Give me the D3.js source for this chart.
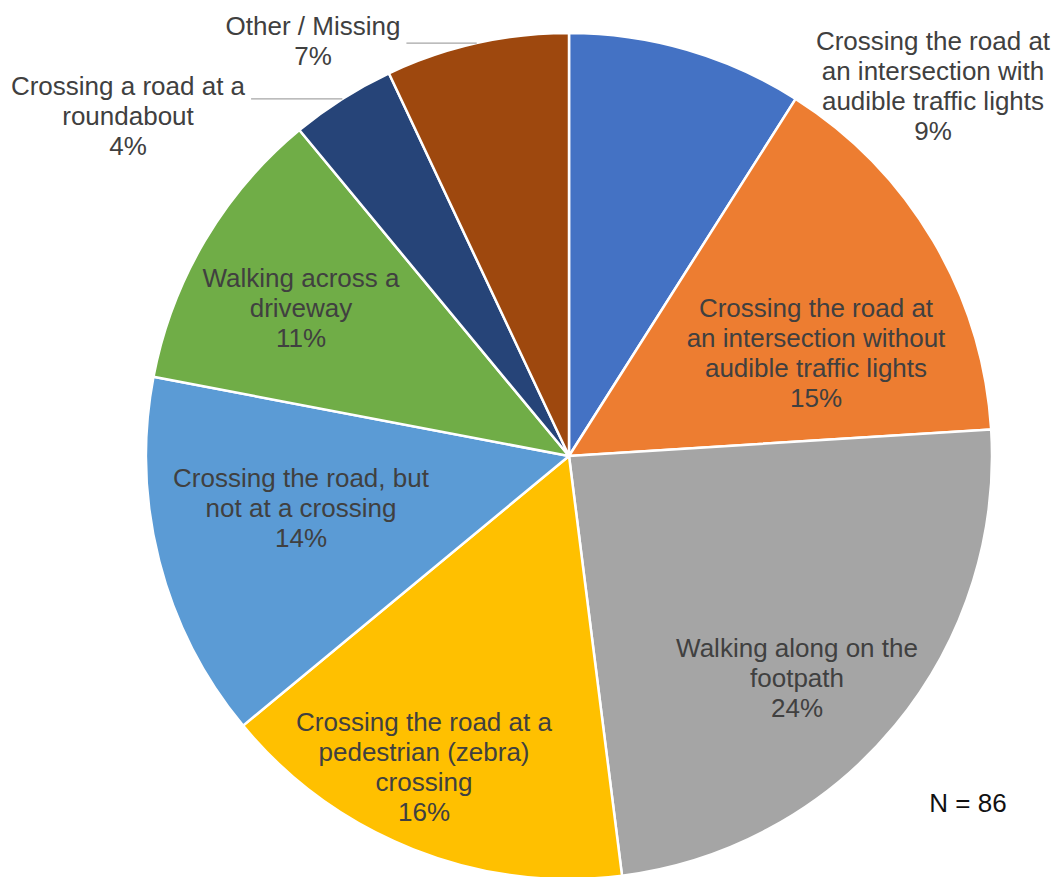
<!DOCTYPE html>
<html>
<head>
<meta charset="utf-8">
<script src="https://cdn.jsdelivr.net/npm/d3@7"></script>
<style>
  html, body { margin: 0; padding: 0; background: #ffffff; }
  svg { display: block; }
  text { font-family: "Liberation Sans", Arial, sans-serif; }
</style>
</head>
<body>
<svg id="chart" width="1055" height="877"></svg>
<script>
// Where pedestrians were when the incident happened (share of respondents)
const categories = [
  "Crossing the road at\nan intersection with\naudible traffic lights",
  "Crossing the road at\nan intersection without\naudible traffic lights",
  "Walking along on the\nfootpath",
  "Crossing the road at a\npedestrian (zebra)\ncrossing",
  "Crossing the road, but\nnot at a crossing",
  "Walking across a\ndriveway",
  "Crossing a road at a\nroundabout",
  "Other / Missing"
];
const percentages = [9, 15, 24, 16, 14, 11, 4, 7];
const sampleSize = 86;

const colors = ["#4472C4", "#ED7D31", "#A5A5A5", "#FFC000", "#5B9BD5", "#70AD47", "#264478", "#9E480E"];

// Label anchor (centre x, first baseline) relative to the pie centre, and whether
// the label sits outside the pie with a leader line.
const labelLayout = [
  { dx: 364, dy: -406, leader: false },
  { dx: 247, dy: -139, leader: false },
  { dx: 228, dy: 201, leader: false },
  { dx: -145, dy: 275, leader: false },
  { dx: -268, dy: 31, leader: false },
  { dx: -268, dy: -169, leader: false },
  { dx: -441, dy: -361, leader: true },
  { dx: -256, dy: -421, leader: true }
];

const width = 1055, height = 877;
const cx = 569, cy = 456, radius = 423;
const fontSize = 26, lineHeight = 30;
const textColor = "#404040";

const svg = d3.select("#chart");
const g = svg.append("g").attr("transform", `translate(${cx},${cy})`);

const data = categories.map((c, i) => ({ name: c, value: percentages[i], i }));

const pie = d3.pie().sort(null).value(d => d.value).startAngle(0).endAngle(2 * Math.PI);
const arcs = pie(data);
const arc = d3.arc().innerRadius(0).outerRadius(radius);

g.selectAll("path.slice")
  .data(arcs)
  .join("path")
  .attr("class", "slice")
  .attr("d", arc)
  .attr("fill", d => colors[d.data.i])
  .attr("stroke", "#ffffff")
  .attr("stroke-width", 2.5)
  .attr("stroke-linejoin", "round");

// Data labels: category on wrapped lines, then the percentage
const labels = g.selectAll("g.label")
  .data(arcs)
  .join("g")
  .attr("class", "label")
  .attr("transform", d => {
    const L = labelLayout[d.data.i];
    return `translate(${L.dx},${L.dy})`;
  });

labels.each(function (d) {
  const lines = d.data.name.split("\n").concat([d.data.value + "%"]);
  const t = d3.select(this).append("text")
    .attr("text-anchor", "middle")
    .attr("font-size", fontSize)
    .attr("fill", textColor);
  lines.forEach((ln, k) => {
    t.append("tspan").attr("x", 0).attr("y", k * lineHeight).text(ln);
  });
});

// Leader lines for labels placed outside the pie
arcs.forEach(d => {
  const L = labelLayout[d.data.i];
  if (!L.leader) return;
  const mid = (d.startAngle + d.endAngle) / 2;
  const ex = radius * Math.sin(mid);
  const ey = -radius * Math.cos(mid);
  // width of the first label line to find where the line starts
  const firstLine = d.data.name.split("\n")[0];
  const tmp = g.append("text").attr("font-size", fontSize).text(firstLine);
  const w = tmp.node().getComputedTextLength();
  tmp.remove();
  const sx = L.dx + w / 2 + 6;
  g.append("line")
    .attr("x1", sx).attr("y1", ey)
    .attr("x2", ex).attr("y2", ey)
    .attr("stroke", "#A6A6A6")
    .attr("stroke-width", 1.3);
});

// Sample size note
svg.append("text")
  .attr("x", 968)
  .attr("y", 812)
  .attr("text-anchor", "middle")
  .attr("font-size", fontSize)
  .attr("fill", "#111111")
  .text("N = " + sampleSize);
</script>
</body>
</html>
